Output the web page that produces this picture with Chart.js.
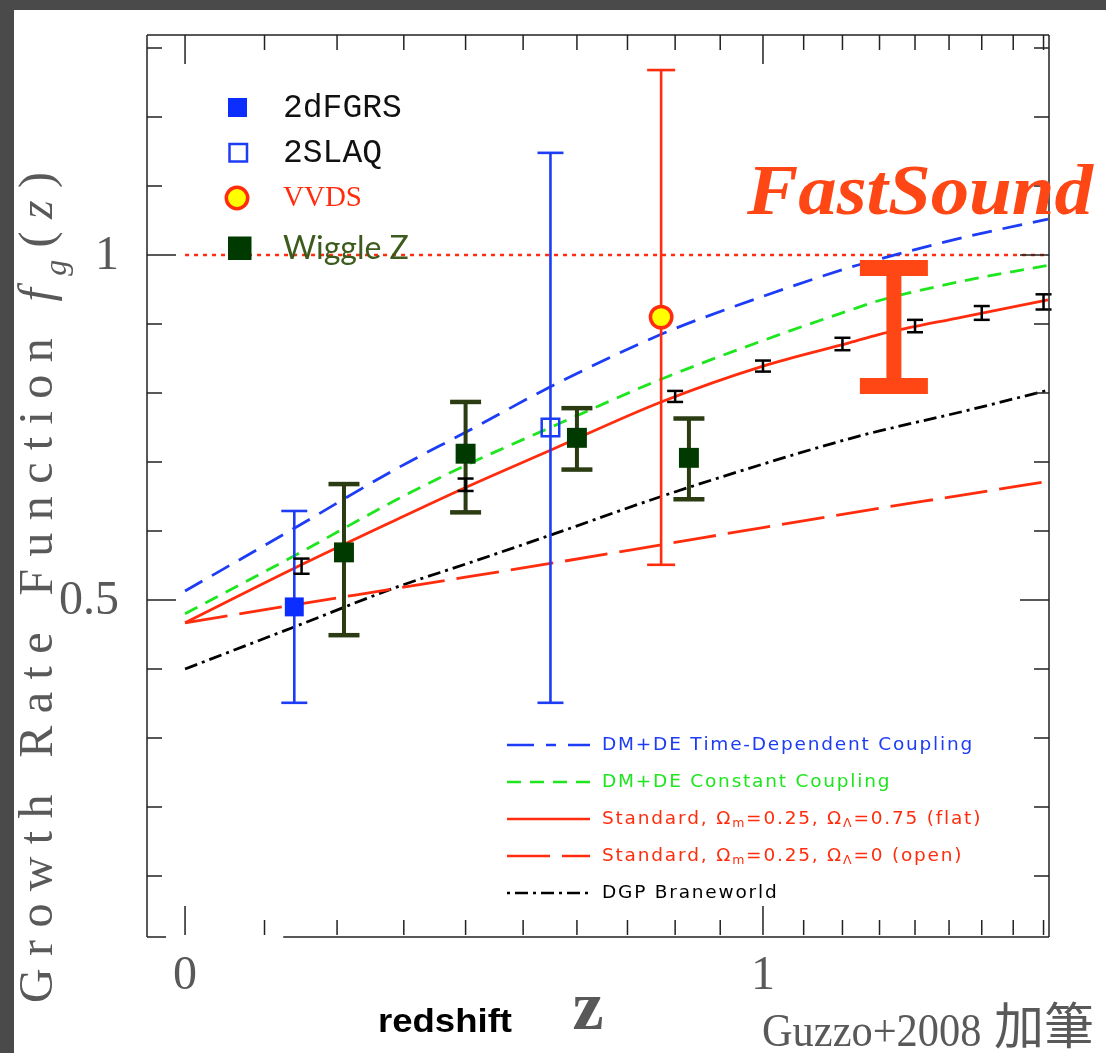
<!DOCTYPE html>
<html>
<head>
<meta charset="utf-8">
<title>Growth Rate Function</title>
<script src="https://cdn.jsdelivr.net/npm/chart.js@4.4.1/dist/chart.umd.min.js"></script>
<style>
  html, body { margin: 0; padding: 0; background: #4a4a4a; }
  canvas { display: block; }
</style>
</head>
<body>
<canvas id="chart" width="1106" height="1053"></canvas>
<script>
// model curves at these redshifts
var zModel         = [0, 0.14, 0.29, 0.40, 0.55, 0.77, 1.0, 1.22, 1.30, 1.54, 1.815];
var fTimeCoupling  = [0.513, 0.604, 0.691, 0.743, 0.809, 0.885, 0.940, 0.982, 0.994, 1.025, 1.052];
var fConstCoupling = [0.480, 0.564, 0.646, 0.695, 0.750, 0.820, 0.876, 0.920, 0.934, 0.962, 0.985];
var fFlat          = [0.467, 0.546, 0.617, 0.663, 0.717, 0.787, 0.839, 0.873, 0.885, 0.910, 0.935];
var fOpen          = [0.467, 0.493, 0.517, 0.533, 0.553, 0.580, 0.605, 0.626, 0.633, 0.652, 0.672];
var fDGP           = [0.400, 0.461, 0.519, 0.552, 0.594, 0.650, 0.697, 0.734, 0.745, 0.773, 0.804];

// measurements
var z2dF = [0.14],   f2dF = [0.490],   lo2dF = [0.351],   hi2dF = [0.629];
var z2SLAQ = [0.55], f2SLAQ = [0.750], lo2SLAQ = [0.351], hi2SLAQ = [1.148];
var zVVDS = [0.77],  fVVDS = [0.910],  loVVDS = [0.551],  hiVVDS = [1.268];
var zWiggle  = [0.21, 0.40, 0.60, 0.83];
var fWiggle  = [0.569, 0.712, 0.735, 0.706];
var loWiggle = [0.449, 0.627, 0.689, 0.646];
var hiWiggle = [0.668, 0.787, 0.778, 0.763];
var zFast = [1.34], loFast = [0.810], hiFast = [0.981];
// small forecast error bars along the flat model
var zForecast  = [0.15, 0.40, 0.80, 1.00, 1.20, 1.40, 1.60, 1.80];
var fForecast  = [0.549, 0.667, 0.795, 0.839, 0.871, 0.897, 0.916, 0.932];
var dfForecast = [0.011, 0.009, 0.008, 0.008, 0.009, 0.009, 0.010, 0.011];

// axes
var zTicks = [0, 0.1, 0.2, 0.3, 0.4, 0.5, 0.6, 0.7, 0.8, 0.9, 1, 1.1, 1.2, 1.3, 1.4, 1.5, 1.6, 1.7, 1.8];
var zLabelled = [0, 1], zTickLabels = ['0', '1'];
var fTicks = [0.1, 0.2, 0.3, 0.4, 0.5, 0.6, 0.7, 0.8, 0.9, 1, 1.1, 1.2, 1.3];
var fLabelled = [0.5, 1], fTickLabels = ['0.5', '1'];

var BLUE = '#1d3cf5', GREEN = '#1ee61e', RED = '#ff2d0d', FAST = '#ff4716';
var OLIVE = '#2b3b12', DKGREEN = '#003a00', GREY = '#595959';
var SERIF = '"Liberation Serif", "Noto Sans CJK JP", serif';

function pts(zs, fs) {
  return zs.map(function (z, i) { return { x: 1 + z, y: fs[i] }; });
}
function bars(zs, lo, hi) {
  var out = [];
  zs.forEach(function (z, i) {
    out.push({ x: 1 + z, y: lo[i] }, { x: 1 + z, y: hi[i] }, { x: 1 + z, y: null });
  });
  return out;
}
function curve(data, color, dash, order) {
  return { data: data, showLine: true, borderColor: color, borderWidth: 2.8, borderDash: dash,
    pointRadius: 0, cubicInterpolationMode: 'monotone', order: order };
}
function errbar(data, color, stem, capHalf, capThick) {
  return { data: data, showLine: true, borderColor: color, borderWidth: stem,
    pointStyle: 'line', pointRadius: capHalf, pointHoverRadius: capHalf,
    pointBorderColor: color, pointBorderWidth: capThick, pointHoverBorderWidth: capThick,
    order: 5, clip: false };
}

function runWidth(ctx, pieces, sp) {
  var w = 0;
  pieces.forEach(function (p) {
    ctx.font = p.font;
    for (var i = 0; i < p.t.length; i++) w += ctx.measureText(p.t[i]).width + sp;
  });
  return w;
}
function drawRun(ctx, pieces, x, y, sp) {
  pieces.forEach(function (p) {
    ctx.font = p.font;
    for (var i = 0; i < p.t.length; i++) {
      ctx.fillText(p.t[i], x, y + (p.dy || 0));
      x += ctx.measureText(p.t[i]).width + sp;
    }
  });
  return x;
}
function fitText(ctx, text, font, x, y, width) {
  ctx.font = font;
  var w = ctx.measureText(text).width;
  ctx.save();
  ctx.translate(x, y);
  ctx.scale(width / w, 1);
  ctx.fillText(text, 0, 0);
  ctx.restore();
}

var decor = {
  id: 'decor',
  beforeDraw: function (chart) {
    var ctx = chart.ctx;
    ctx.save();
    ctx.fillStyle = '#4a4a4a';
    ctx.fillRect(0, 0, chart.width, chart.height);
    ctx.fillStyle = '#ffffff';
    ctx.fillRect(14, 10, chart.width - 14, chart.height - 10);
    ctx.restore();
  },
  afterDraw: function (chart) {
    var ctx = chart.ctx, ca = chart.chartArea;
    var sx = chart.scales.x, sy = chart.scales.y;
    var X = function (z) { return sx.getPixelForValue(1 + z); };
    var Y = function (f) { return sy.getPixelForValue(f); };
    ctx.save();

    // frame
    ctx.strokeStyle = '#222';
    ctx.lineWidth = 1.5;
    ctx.beginPath();
    ctx.moveTo(ca.left, ca.top); ctx.lineTo(ca.right, ca.top);
    ctx.moveTo(ca.left, ca.top); ctx.lineTo(ca.left, ca.bottom);
    ctx.moveTo(ca.right, ca.top); ctx.lineTo(ca.right, ca.bottom);
    ctx.moveTo(ca.left, ca.bottom); ctx.lineTo(X(-0.0225), ca.bottom);
    ctx.moveTo(X(0.125), ca.bottom); ctx.lineTo(ca.right, ca.bottom);
    ctx.stroke();

    // ticks, inward on all four sides
    ctx.beginPath();
    zTicks.forEach(function (z) {
      var len = zLabelled.indexOf(z) >= 0 ? 29 : 15;
      var x = X(z);
      ctx.moveTo(x, ca.bottom - 2); ctx.lineTo(x, ca.bottom - 2 - len);
      ctx.moveTo(x, ca.top); ctx.lineTo(x, ca.top + len);
    });
    fTicks.forEach(function (f) {
      var len = fLabelled.indexOf(f) >= 0 ? 29 : 15;
      var y = Y(f);
      ctx.moveTo(ca.left, y); ctx.lineTo(ca.left + len, y);
      ctx.moveTo(ca.right, y); ctx.lineTo(ca.right - len, y);
    });
    ctx.stroke();

    // tick labels
    ctx.fillStyle = GREY;
    ctx.font = '48px ' + SERIF;
    ctx.textBaseline = 'middle';
    ctx.textAlign = 'center';
    zLabelled.forEach(function (z, i) { ctx.fillText(zTickLabels[i], X(z), 976); });
    ctx.textAlign = 'right';
    fLabelled.forEach(function (f, i) { ctx.fillText(fTickLabels[i], 119, Y(f) + 1); });

    // axis titles
    ctx.textAlign = 'left';
    ctx.textBaseline = 'alphabetic';
    var yTitle = [
      { t: 'Growth Rate Function ', font: '48px ' + SERIF },
      { t: 'f', font: 'italic 48px ' + SERIF },
      { t: 'g', font: 'italic 32px ' + SERIF, dy: 14 },
      { t: '(', font: '48px ' + SERIF },
      { t: 'z', font: 'italic 48px ' + SERIF },
      { t: ')', font: '48px ' + SERIF }
    ];
    var nY = 26, w0 = runWidth(ctx, yTitle, 0);
    var spY = (831 - w0) / (nY - 1);
    ctx.save();
    ctx.translate(52, 1003);
    ctx.rotate(-Math.PI / 2);
    drawRun(ctx, yTitle, 0, 0, spY);
    ctx.restore();

    ctx.fillStyle = GREY;
    ctx.font = 'bold 70px ' + SERIF;
    ctx.textAlign = 'center';
    ctx.fillText('z', 588, 1029);
    ctx.textAlign = 'left';
    ctx.fillStyle = '#000';
    fitText(ctx, 'redshift', 'bold 34px "Liberation Sans"', 378, 1032, 134);

    ctx.fillStyle = GREY;
    fitText(ctx, 'Guzzo+2008 ', '46px ' + SERIF, 762, 1046, 230);
    ctx.font = '50px "Noto Sans CJK JP"';
    ctx.fillText('加筆', 994, 1044);

    // FastSound label
    ctx.fillStyle = FAST;
    fitText(ctx, 'FastSound', 'bold italic 72px ' + SERIF, 747, 214, 346);

    // data legend, top left
    ctx.fillStyle = '#0b2eff';
    ctx.fillRect(228, 98, 19, 19);
    ctx.strokeStyle = BLUE; ctx.lineWidth = 2.5;
    ctx.strokeRect(229.5, 144, 17.5, 17.5);
    ctx.beginPath(); ctx.arc(237, 198, 10.7, 0, Math.PI * 2);
    ctx.fillStyle = '#ffff00'; ctx.fill();
    ctx.strokeStyle = RED; ctx.lineWidth = 3.5; ctx.stroke();
    ctx.fillStyle = DKGREEN;
    ctx.fillRect(228, 236.5, 23.5, 23.5);

    ctx.textBaseline = 'middle';
    ctx.fillStyle = '#111';
    ctx.font = '33px "Liberation Mono"';
    ctx.fillText('2dFGRS', 283, 108);
    ctx.fillText('2SLAQ', 283, 153);
    ctx.fillStyle = RED;
    ctx.font = '29px ' + SERIF;
    ctx.fillText('VVDS', 283, 198);
    ctx.fillStyle = '#3d5b1d';
    ctx.font = '32px Lato';
    ctx.fillText('Wiggle Z', 283, 249);

    // model legend, bottom right
    var F = '18.5px "DejaVu Sans"', FS = '12.5px "DejaVu Sans"';
    var rows = [
      { y: 745, color: BLUE, dash: [27, 12, 10, 12], text: [{ t: 'DM+DE Time-Dependent Coupling', font: F }] },
      { y: 782, color: GREEN, dash: [14, 9], text: [{ t: 'DM+DE Constant Coupling', font: F }] },
      { y: 819, color: RED, dash: [], text: [
        { t: 'Standard, \u03a9', font: F }, { t: 'm', font: FS, dy: 5 },
        { t: '=0.25, \u03a9', font: F }, { t: '\u039b', font: FS, dy: 5 },
        { t: '=0.75 (flat)', font: F }] },
      { y: 856, color: RED, dash: [43, 12], text: [
        { t: 'Standard, \u03a9', font: F }, { t: 'm', font: FS, dy: 5 },
        { t: '=0.25, \u03a9', font: F }, { t: '\u039b', font: FS, dy: 5 },
        { t: '=0 (open)', font: F }] },
      { y: 893, color: '#000', dash: [3, 5, 13, 5], text: [{ t: 'DGP Braneworld', font: F }] }
    ];
    var row1 = rows[0].text[0].t;
    var spL = (372 - runWidth(ctx, rows[0].text, 0)) / row1.length;
    rows.forEach(function (r) {
      ctx.strokeStyle = r.color;
      ctx.lineWidth = 2.5;
      ctx.setLineDash(r.dash);
      ctx.beginPath(); ctx.moveTo(507, r.y); ctx.lineTo(590, r.y); ctx.stroke();
      ctx.setLineDash([]);
      ctx.fillStyle = r.color;
      drawRun(ctx, r.text, 602, r.y, spL);
    });

    ctx.restore();
  }
};

new Chart(document.getElementById('chart'), {
  type: 'scatter',
  data: {
    datasets: [
      curve(pts(zModel, fTimeCoupling), BLUE, [20, 11], 10),
      curve(pts(zModel, fConstCoupling), GREEN, [14, 9], 10),
      curve(pts(zModel, fFlat), RED, [], 10),
      curve(pts(zModel, fOpen), RED, [43, 12], 10),
      curve(pts(zModel, fDGP), '#000', [13, 5, 3, 5], 10),
      { data: [{ x: 1, y: 1 }, { x: 2.8184, y: 1 }], showLine: true, borderColor: RED,
        borderWidth: 2.5, borderDash: [4, 5], pointRadius: 0, order: 10 },

      errbar(bars(zForecast, fForecast.map(function (f, i) { return f - dfForecast[i]; }),
        fForecast.map(function (f, i) { return f + dfForecast[i]; })), '#000', 2.5, 8, 2.5),
      errbar(bars(z2dF, lo2dF, hi2dF), BLUE, 2.6, 13, 2.6),
      errbar(bars(z2SLAQ, lo2SLAQ, hi2SLAQ), BLUE, 2.6, 13, 2.6),
      errbar(bars(zVVDS, loVVDS, hiVVDS), RED, 2.6, 14, 2.6),
      errbar(bars(zWiggle, loWiggle, hiWiggle), OLIVE, 4, 15.5, 4.5),
      errbar(bars(zFast, loFast, hiFast), FAST, 15, 34, 16),

      { data: pts(z2dF, f2dF), pointStyle: 'rect', pointRadius: 13.4, pointHoverRadius: 13.4,
        backgroundColor: '#0b2eff', borderWidth: 0, order: 1 },
      { data: pts(z2SLAQ, f2SLAQ), pointStyle: 'rect', pointRadius: 12.4, pointHoverRadius: 12.4,
        backgroundColor: 'rgba(0,0,0,0)', borderColor: BLUE, borderWidth: 2.5, order: 1 },
      { data: pts(zVVDS, fVVDS), pointStyle: 'circle', pointRadius: 10.7, pointHoverRadius: 10.7,
        backgroundColor: '#ffff00', borderColor: RED, borderWidth: 3.5, order: 1 },
      { data: pts(zWiggle, fWiggle), pointStyle: 'rect', pointRadius: 14.1, pointHoverRadius: 14.1,
        backgroundColor: DKGREEN, borderWidth: 0, order: 1 }
    ]
  },
  options: {
    responsive: false,
    animation: false,
    events: [],
    devicePixelRatio: 1,
    layout: { autoPadding: false, padding: { left: 147, right: 57, top: 35, bottom: 116 } },
    scales: {
      x: { type: 'logarithmic', min: 0.9554, max: 2.8184, bounds: 'data', display: false },
      y: { type: 'linear', min: 0.0116, max: 1.3188, bounds: 'data', display: false }
    },
    plugins: { legend: { display: false }, tooltip: { enabled: false } }
  },
  plugins: [decor]
});
</script>
</body>
</html>
